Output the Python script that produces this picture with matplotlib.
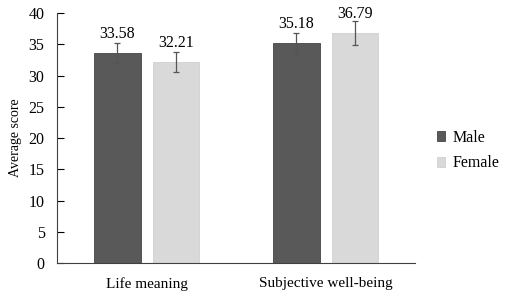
import matplotlib.pyplot as plt
import numpy as np

plt.rcParams['font.family'] = ['Liberation Serif', 'DejaVu Serif']

categories = ['Life meaning', 'Subjective well-being']
male = [33.58, 35.18]
female = [32.21, 36.79]
male_err = [1.6, 1.7]
female_err = [1.65, 1.9]

fig = plt.figure(figsize=(5.1, 3.05), dpi=100)
ax = fig.add_axes([0.112, 0.137, 0.702, 0.820])

x = np.arange(len(categories))
w = 0.262
off = 0.164
ekw = dict(ecolor='#555555', elinewidth=0.9, capsize=2, capthick=0.9)
ax.bar(x - off, male, w, color='#595959', edgecolor='#454545', linewidth=0.6, label='Male',
       yerr=male_err, error_kw=ekw)
ax.bar(x + off, female, w, color='#d9d9d9', edgecolor='#d0d0d0', linewidth=0.6, label='Female',
       yerr=female_err, error_kw=ekw)

for xs, vals in [(x - off, male), (x + off, female)]:
    for xi, v in zip(xs, vals):
        ax.annotate(f'{v:.2f}', (xi, v), xytext=(0, 8), textcoords='offset points',
                    ha='center', va='bottom', fontsize=11.5)

ax.set_xlim(-0.5, 1.5)
ax.set_ylim(0, 40)
ax.set_yticks(range(0, 41, 5))
ax.set_xticks(x)
ax.set_xticklabels(categories, fontsize=11)
ax.tick_params(axis='x', length=0, pad=10)
ax.tick_params(axis='y', labelsize=11.5, length=5, width=0.8, direction='in', pad=9)
ax.set_ylabel('Average score', fontsize=10, labelpad=5)
for s in ['top', 'right']:
    ax.spines[s].set_visible(False)
ax.spines['left'].set_color('#404040')
ax.spines['bottom'].set_color('#404040')

ax.legend(loc='center left', bbox_to_anchor=(1.02, 0.45), frameon=False, fontsize=11.5,
          handlelength=0.55, handleheight=0.55, handletextpad=0.45, labelspacing=0.6)

fig.savefig('out.png', dpi=100)
